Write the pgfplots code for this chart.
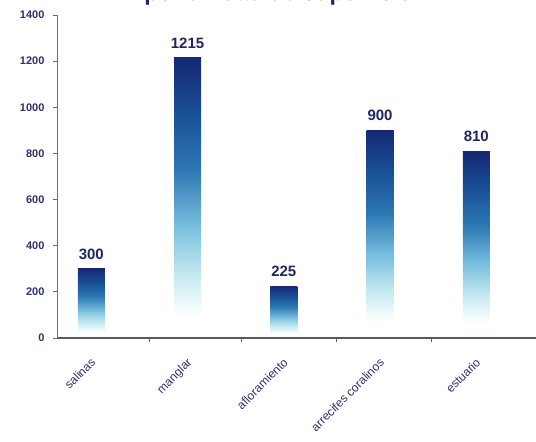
\documentclass[border=0pt]{standalone}
\usepackage{fontspec}
\setmainfont{Liberation Sans}
\usepackage{pgfplots}
\pgfplotsset{compat=1.18}
\definecolor{navy}{RGB}{32,38,95}
\definecolor{tickc}{RGB}{45,50,105}
\definecolor{axc}{RGB}{110,110,125}
\definecolor{sA}{RGB}{200,235,242}
\definecolor{sB}{RGB}{120,190,222}
\definecolor{sC}{RGB}{45,120,180}
\definecolor{sD}{RGB}{25,80,150}
\definecolor{sE}{RGB}{22,40,115}
\pgfdeclareverticalshading{barshade}{100bp}{color(0bp)=(white); color(25bp)=(white); color(29bp)=(white); color(36bp)=(sA); color(45bp)=(sB); color(55bp)=(sC); color(65bp)=(sD); color(75bp)=(sE); color(100bp)=(sE)}
\begin{document}
\begin{tikzpicture}
\begin{axis}[
  at={(57pt,104pt)}, anchor=south west,
  scale only axis, width=479pt, height=323pt,
  xmin=-0.356, xmax=4.62, ymin=0, ymax=1400,
  axis lines*=left,
  axis on top,
  axis line style={axc, line width=0.9pt},
  x axis line style={black!65, line width=1.3pt},
  ytick={0,200,...,1400},
  /pgf/number format/assume math mode=true,
  /pgf/number format/1000 sep={},
  yticklabel style={font=\bfseries\fontsize{11}{11}\selectfont, text=tickc, xshift=-5pt},
  tick align=outside,
  major tick length=4pt,
  tick style={axc, line width=0.8pt},
  xtick={0.6,1.56,2.55,3.53},
  xticklabels={},
  x tick style={black!65, line width=0.8pt},
  extra x ticks={0,1,2,3,4},
  extra x tick labels={salinas,manglar,afloramiento,arrecifes coralinos,estuario},
  extra x tick style={tick style={draw=none}},
  xticklabel style={font=\fontsize{12}{12}\selectfont, text=tickc, rotate=45, anchor=north east, inner sep=0pt, yshift=-9.7pt, xshift=-11.5pt},
  ybar, bar width=27pt, bar shift=0pt,
  nodes near coords,
  nodes near coords style={font=\bfseries\fontsize{15}{15}\selectfont, text=navy, yshift=6pt},
  every axis plot/.append style={draw=none, shading=barshade},
  clip=false,
]
\addplot coordinates {(0,300)};
\addplot coordinates {(1,1215)};
\addplot coordinates {(2,225)};
\addplot coordinates {(3,900)};
\addplot coordinates {(4,810)};
\end{axis}
\node[font=\bfseries\fontsize{23}{23}\selectfont, text=navy, anchor=base] at (278pt,441pt) {por unidad de superficie};
\pgfresetboundingbox
\path[use as bounding box] (0,0) rectangle (536pt,442pt);
\end{tikzpicture}
\end{document}
